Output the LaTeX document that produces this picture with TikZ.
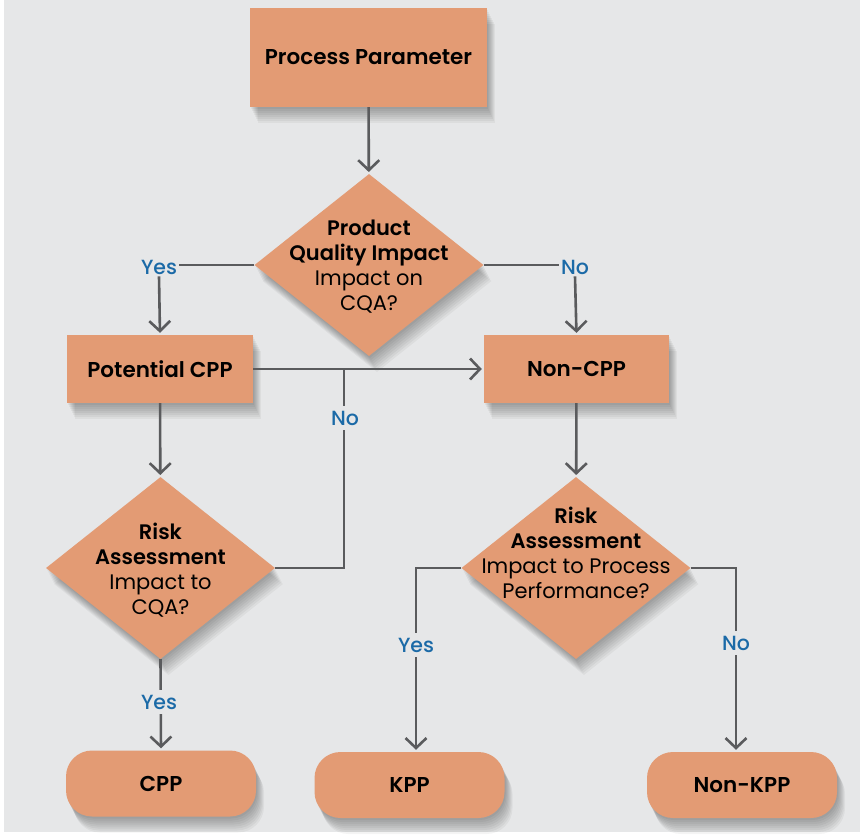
\documentclass[tikz,border=0pt]{standalone}
\usepackage{fontspec}
\setmainfont{Poppins}[BoldFont={Poppins SemiBold}]
\newfontfamily\labelfont{Poppins Medium}
\usetikzlibrary{arrows.meta,shapes.geometric,calc}
\definecolor{bgray}{HTML}{E6E7E8}
\definecolor{boxfill}{HTML}{E39B74}
\definecolor{lineg}{HTML}{5A5B5D}
\definecolor{answer}{HTML}{1B6AA7}
\begin{document}
\begin{tikzpicture}[x=1pt,y=-1pt,
  shadowlayer/.style={preaction={fill=black,opacity=0.045,
      transform canvas={shift={#1}}}},
  softshadow/.style={shadowlayer={(1pt,-2pt)},shadowlayer={(2pt,-4pt)},
      shadowlayer={(3pt,-6pt)},shadowlayer={(4pt,-8pt)},
      shadowlayer={(5pt,-10pt)},shadowlayer={(6pt,-12pt)},
      shadowlayer={(7pt,-14pt)},shadowlayer={(8pt,-16pt)}},
  box/.style={fill=boxfill,inner sep=0pt,softshadow,
      font=\fontsize{21.5}{25}\selectfont\bfseries},
  rectbox/.style={box,rectangle},
  endbox/.style={box,rectangle,rounded corners=26pt,
      minimum width=190pt,minimum height=66pt},
  dec/.style={box,diamond,aspect=1.25,minimum width=229pt,minimum height=182pt},
  dectext/.style={align=center,font=\fontsize{21}{25}\selectfont},
  link/.style={draw=lineg,line width=2.6pt},
  arrow/.style={link,-{Straight Barb[length=10pt,width=21pt]},shorten >=2pt},
  answerlbl/.style={text=answer,font=\labelfont\fontsize{20.5}{22}\selectfont,
      fill=bgray,inner sep=2pt}]
  % page and panel
  \useasboundingbox (0,0) rectangle (860,836);
  \fill[white] (0,0) rectangle (860,836);
  \fill[bgray] (4,0) rectangle (860,832);

  % boxes
  \node[rectbox,minimum width=237pt,minimum height=99pt] (pp) at (368.5,57.5) {\raisebox{-3pt}{Process Parameter}};
  \node[dec] (d1) at (369,265) {};
  \node[dectext] at (369,266.5) {\textbf{Product}\\\textbf{Quality Impact}\\Impact on\\CQA?};
  \node[rectbox,minimum width=186pt,minimum height=68pt] (pcpp) at (160,369) {Potential CPP};
  \node[rectbox,minimum width=185pt,minimum height=68pt] (ncpp) at (576.5,369) {Non-CPP};
  \node[dec] (d2) at (160.5,568) {};
  \node[dectext] at (160.5,570.5) {\textbf{Risk}\\\textbf{Assessment}\\Impact to\\CQA?};
  \node[dec] (d3) at (576,568) {};
  \node[dectext] at (576,553) {\textbf{Risk}\\\textbf{Assessment}\\Impact to Process\\Performance?};
  \node[endbox] (cpp) at (161,783.5) {CPP};
  \node[endbox] (kpp) at (409.5,785) {KPP};
  \node[endbox] (nkpp) at (742,785) {Non-KPP};

  % answer labels
  \node[answerlbl] (y1) at (159,267) {Yes};
  \node[answerlbl] (n1) at (575,267) {No};
  \coordinate (j) at (344,369);

  % connectors
  \draw[arrow] (pp) -- (d1);
  \draw[link] (d1.west) -- (y1.east |- d1.west);
  \draw[arrow] (y1.south) -- (pcpp.north);
  \draw[link] (d1.east) -- (n1.west |- d1.east);
  \draw[arrow] (n1.south) -- (ncpp.north);
  \draw[arrow] (pcpp.east) -- (ncpp.west);
  \draw[arrow] (pcpp) -- (d2);
  \draw[link] (d2.east) -| (j);
  \draw[arrow] (ncpp) -- (d3);
  \draw[arrow] (d2.south) -- (cpp.north);
  \draw[arrow] (d3.west) -| ($(kpp.north)+(6.5,0)$);
  \draw[arrow] (d3.east) -| ($(nkpp.north)+(-6,0)$);

  % labels set over their connectors
  \node[answerlbl,inner sep=5pt] (n2) at (345,418) {No};
  \node[answerlbl,inner sep=5pt] (y2) at (159,702) {Yes};
  \node[answerlbl,inner sep=5pt] (y3) at (416,645) {Yes};
  \node[answerlbl,inner sep=5pt] (n3) at (736,643) {No};
\end{tikzpicture}
\end{document}
